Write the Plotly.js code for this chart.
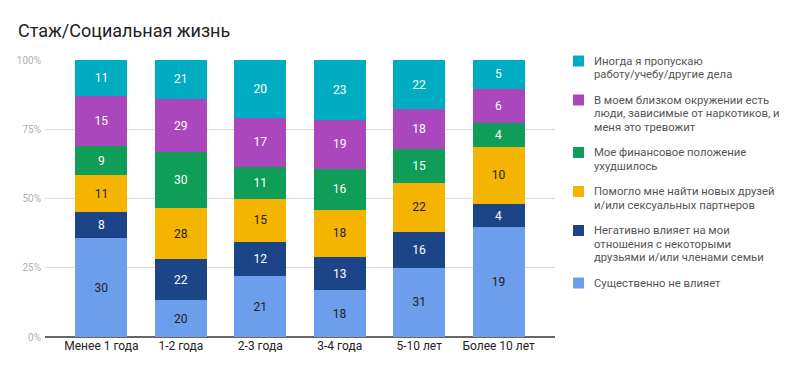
<!DOCTYPE html>
<html>
<head>
<meta charset="utf-8">
<script src="https://cdn.plot.ly/plotly-3.0.1.min.js"></script>
<style>html,body{margin:0;padding:0;background:#fff;}#chart{width:800px;height:377px;}</style>
</head>
<body>
<div id="chart"></div>
<script>
var categories = ["Менее 1 года", "1-2 года", "2-3 года", "3-4 года", "5-10 лет", "Более 10 лет"];
var seriesNames = [
  "Существенно не влияет",
  "Негативно влияет на мои<br>отношения с некоторыми<br>друзьями и/или членами семьи",
  "Помогло мне найти новых друзей<br>и/или сексуальных партнеров",
  "Мое финансовое положение<br>ухудшилось",
  "В моем близком окружении есть<br>люди, зависимые от наркотиков, и<br>меня это тревожит",
  "Иногда я пропускаю<br>работу/учебу/другие дела"
];
var notAffected = [30, 20, 21, 18, 31, 19];
var negativeRelations = [8, 22, 12, 13, 16, 4];
var newFriends = [11, 28, 15, 18, 22, 10];
var financeWorse = [9, 30, 11, 16, 15, 4];
var closeAddicted = [15, 29, 17, 19, 18, 6];
var skipWork = [11, 21, 20, 23, 22, 5];
var yTicks = [0, 25, 50, 75, 100];
var yTickLabels = ["0%", "25%", "50%", "75%", "100%"];

var seriesValues = [notAffected, negativeRelations, newFriends, financeWorse, closeAddicted, skipWork];
var colors = ["#6d9eeb", "#1c4587", "#f4b400", "#0f9d58", "#ab47bc", "#00acc1"];
var textColors = ["#222222", "#ffffff", "#222222", "#ffffff", "#ffffff", "#ffffff"];

var traces = seriesValues.map(function (vals, i) {
  return {
    type: "bar",
    name: seriesNames[i].replace(/<br>/g, " "),
    x: categories,
    y: vals,
    text: vals.map(String),
    textposition: "inside",
    insidetextanchor: "middle",
    textangle: 0,
    constraintext: "none",
    textfont: {family: "Roboto, sans-serif", size: 12, color: textColors[i]},
    marker: {color: colors[i], line: {width: 0}},
    showlegend: false,
    hoverinfo: "none"
  };
});

// plot area in pixels
var W = 800, H = 377;
var M = {l: 45, r: 245, t: 60, b: 40};
var pw = W - M.l - M.r, ph = H - M.t - M.b;
function px2x(px) { return (px - M.l) / pw; }
function py2y(py) { return (H - M.b - py) / ph; }

// custom legend (top item = last series)
var shapes = [], annotations = [];
var lineH = 13.5, itemGap = 12, yCur = 61;
for (var i = seriesNames.length - 1; i >= 0; i--) {
  var lines = seriesNames[i].split("<br>");
  shapes.push({
    type: "rect", xref: "paper", yref: "paper",
    x0: px2x(573), x1: px2x(584), y0: py2y(yCur - 5.5), y1: py2y(yCur + 5.5),
    fillcolor: colors[i], line: {width: 0}
  });
  lines.forEach(function (ln, k) {
    annotations.push({
      xref: "paper", yref: "paper",
      x: px2x(592), y: py2y(yCur + k * lineH),
      xanchor: "left", yanchor: "middle",
      text: ln, showarrow: false,
      font: {family: "Roboto, sans-serif", size: 11.3, color: "#555555"}
    });
  });
  yCur += lines.length * lineH + itemGap;
}

var layout = {
  width: W,
  height: H,
  margin: M,
  paper_bgcolor: "#ffffff",
  plot_bgcolor: "#ffffff",
  font: {family: "Roboto, sans-serif", color: "#222"},
  title: {
    text: "Стаж/Социальная жизнь",
    font: {family: "Roboto, sans-serif", size: 18, color: "#212121"},
    x: 18 / 800, xanchor: "left", xref: "container",
    y: 1 - 31 / 377, yanchor: "middle", yref: "container"
  },
  barmode: "stack",
  barnorm: "percent",
  bargap: 0.345,
  xaxis: {
    type: "category",
    range: [-0.71, 5.71],
    showgrid: false,
    showline: false,
    ticks: "",
    tickfont: {family: "Roboto, sans-serif", size: 12, color: "#222"},
    fixedrange: true
  },
  yaxis: {
    range: [0, 100],
    tickvals: yTicks,
    ticktext: yTickLabels,
    showgrid: true,
    gridcolor: "#dcdcdc",
    gridwidth: 1,
    zeroline: true,
    zerolinecolor: "#666666",
    zerolinewidth: 1.5,
    ticks: "",
    ticklabelstandoff: 3,
    tickfont: {family: "Roboto, sans-serif", size: 10, color: "#b0b0b0"},
    fixedrange: true
  },
  showlegend: false,
  shapes: shapes,
  annotations: annotations
};

Plotly.newPlot("chart", traces, layout, {displayModeBar: false, staticPlot: true});
</script>
</body>
</html>
